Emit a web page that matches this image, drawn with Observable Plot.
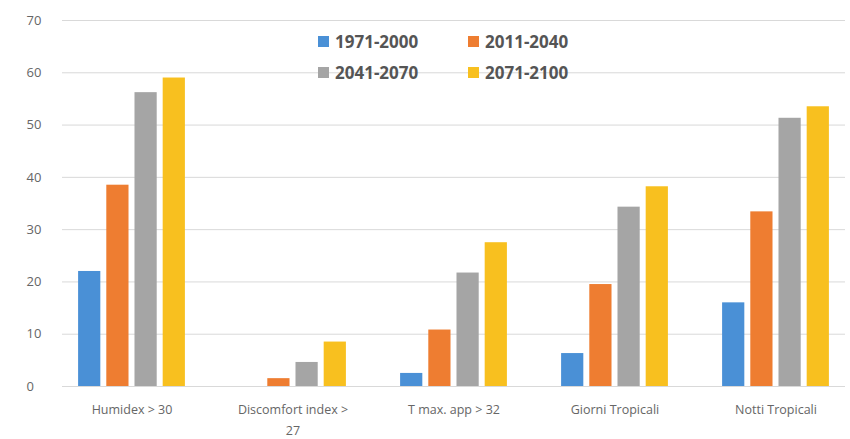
<!DOCTYPE html>
<html><head><meta charset="utf-8">
<script src="https://cdn.jsdelivr.net/npm/d3@7"></script>
<script src="https://cdn.jsdelivr.net/npm/@observablehq/plot@0.6"></script>
<style>
body{margin:0;background:#fff;font-family:"Open Sans",sans-serif}
#wrap{position:relative;width:850px;height:439px}
#legend{position:absolute;left:318px;top:30px;display:grid;grid-template-columns:150px 120px;row-gap:8px;font:bold 17px "Open Sans",sans-serif;color:#555}
#legend span.sw{display:inline-block;width:11px;height:11px;margin-right:6px;vertical-align:1px}
</style></head><body>
<div id="wrap"><div id="chart"></div><div id="legend"></div></div>
<script>
const categories = ["Humidex > 30", "Discomfort index > 27", "T max. app > 32", "Giorni Tropicali", "Notti Tropicali"];
const periods = ["1971-2000", "2011-2040", "2041-2070", "2071-2100"];
const colors = ["#4a90d6", "#ee7d31", "#a5a5a5", "#f8c01f"];
const v1971 = [22, 0, 2.5, 6.3, 16];
const v2011 = [38.5, 1.5, 10.8, 19.5, 33.4];
const v2041 = [56.2, 4.6, 21.7, 34.3, 51.3];
const v2071 = [59, 8.5, 27.5, 38.2, 53.5];
const series = [v1971, v2011, v2041, v2071];
const yTicks = d3.range(0, 71, 10);

const W = 850, mL = 62, mR = 5;
const pIn = 0.3, pOut = 0.08;
// band width in pixels, to split each category band into four bars
const step = (W - mL - mR) / (categories.length - pIn + 2 * pOut);
const slot = step * (1 - pIn) / periods.length;
const gap = slot * 0.22;

const bars = series.map((vals, j) =>
  Plot.barY(categories.map((c, i) => ({ cat: c, value: vals[i] })), {
    x: "cat", y: "value", fill: colors[j],
    insetLeft: j * slot + gap / 2, insetRight: (periods.length - 1 - j) * slot + gap / 2
  }));

const plot = Plot.plot({
  width: W, height: 439,
  marginLeft: mL, marginRight: mR, marginTop: 20, marginBottom: 53,
  style: { fontFamily: "Open Sans, sans-serif", fontSize: "12px", color: "#666" },
  x: { domain: categories, paddingInner: pIn, paddingOuter: pOut, label: null, axis: null },
  y: { domain: [0, 70], label: null, axis: null },
  marks: [
    Plot.gridY(yTicks, { stroke: "#d9d9d9", strokeOpacity: 1 }),
    Plot.axisY(yTicks, { tickSize: 0, tickPadding: 36, fontSize: 13, textAnchor: "start" }),
    ...bars,
    Plot.axisX({ tickSize: 0, tickPadding: 12, fontSize: 12.5, lineHeight: 1.7,
      tickFormat: d => d === "Discomfort index > 27" ? "Discomfort index >\n27" : d })
  ]
});
document.getElementById("chart").appendChild(plot);
const lg = document.getElementById("legend");
periods.forEach((p, i) => {
  const d = document.createElement("div");
  d.innerHTML = `<span class="sw" style="background:${colors[i]}"></span>${p}`;
  lg.appendChild(d);
});
</script></body></html>
